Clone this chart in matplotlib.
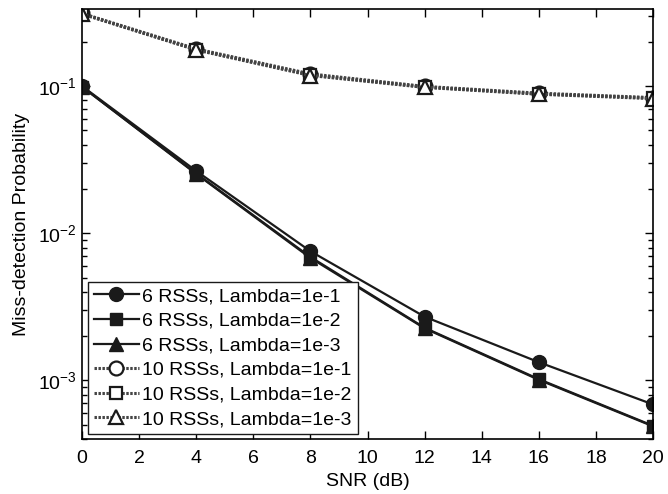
import matplotlib
matplotlib.use("Agg")
import matplotlib.pyplot as plt
from matplotlib.ticker import LogLocator, NullFormatter, MultipleLocator

plt.rcParams['font.family'] = ['Liberation Sans', 'DejaVu Sans']
plt.rcParams['mathtext.fontset'] = 'custom'
plt.rcParams['mathtext.rm'] = 'Liberation Sans'
plt.rcParams['axes.unicode_minus'] = False

snr = [0, 4, 8, 12, 16, 20]

# 6 RSSs
p6_l1 = [0.100, 0.0265, 0.00755, 0.00271, 0.00133, 0.000687]
p6_l2 = [0.099, 0.0255, 0.00690, 0.00228, 0.00102, 0.000492]
p6_l3 = [0.099, 0.0253, 0.00680, 0.00226, 0.00101, 0.000488]

# 10 RSSs
p10_l1 = [0.312, 0.179, 0.121, 0.0995, 0.0895, 0.0835]
p10_l2 = [0.310, 0.177, 0.119, 0.0985, 0.0885, 0.0828]
p10_l3 = [0.309, 0.176, 0.118, 0.0980, 0.0880, 0.0822]

labels = ["6 RSSs, Lambda=1e-1", "6 RSSs, Lambda=1e-2", "6 RSSs, Lambda=1e-3",
          "10 RSSs, Lambda=1e-1", "10 RSSs, Lambda=1e-2", "10 RSSs, Lambda=1e-3"]

fig = plt.figure(figsize=(6.68, 4.94), dpi=100)
ax = fig.add_axes([82 / 668, 55 / 494, 571 / 668, 430 / 494])

solid = dict(color='#1a1a1a', linestyle='-', linewidth=1.6)
dotted = dict(color='#444444', linestyle=(0, (0.8, 0.5)), linewidth=2.2)

ax.semilogy(snr, p6_l1, marker='o', markersize=10, mfc='#1a1a1a', mec='#1a1a1a', label=labels[0], **solid)
ax.semilogy(snr, p6_l2, marker='s', markersize=9, mfc='#1a1a1a', mec='#1a1a1a', label=labels[1], **solid)
ax.semilogy(snr, p6_l3, marker='^', markersize=10, mfc='#1a1a1a', mec='#1a1a1a', label=labels[2], **solid)
ax.semilogy(snr, p10_l1, marker='o', markersize=10, mfc='white', mec='#1a1a1a', mew=1.6, label=labels[3], **dotted)
ax.semilogy(snr, p10_l2, marker='s', markersize=9, mfc='white', mec='#1a1a1a', mew=1.6, label=labels[4], **dotted)
ax.semilogy(snr, p10_l3, marker='^', markersize=10, mfc='white', mec='#1a1a1a', mew=1.6, label=labels[5], **dotted)

ax.set_xlim(0, 20)
ax.set_ylim(4.0e-4, 0.334)
ax.xaxis.set_major_locator(MultipleLocator(2))
ax.yaxis.set_major_locator(LogLocator(base=10, numticks=10))
ax.yaxis.set_minor_locator(LogLocator(base=10, subs=range(2, 10), numticks=10))
ax.yaxis.set_minor_formatter(NullFormatter())
ax.tick_params(which='both', direction='in', top=True, right=True, labelsize=14, width=1.0)
ax.tick_params(which='major', length=6)
ax.tick_params(which='minor', length=3.5)
ax.tick_params(axis='x', pad=8)
for s in ax.spines.values():
    s.set_linewidth(1.2)

ax.set_xlabel("SNR (dB)", fontsize=14)
ax.set_ylabel("Miss-detection Probability", fontsize=14, labelpad=6)

leg = ax.legend(loc='lower left', bbox_to_anchor=(6 / 571, 5 / 430), borderaxespad=0,
                fontsize=14, fancybox=False, edgecolor='#1a1a1a', framealpha=1,
                handlelength=2.3, handletextpad=0.2, labelspacing=0.36, borderpad=0.3)
leg.get_frame().set_linewidth(1.0)

fig.savefig("out.png", dpi=100)
